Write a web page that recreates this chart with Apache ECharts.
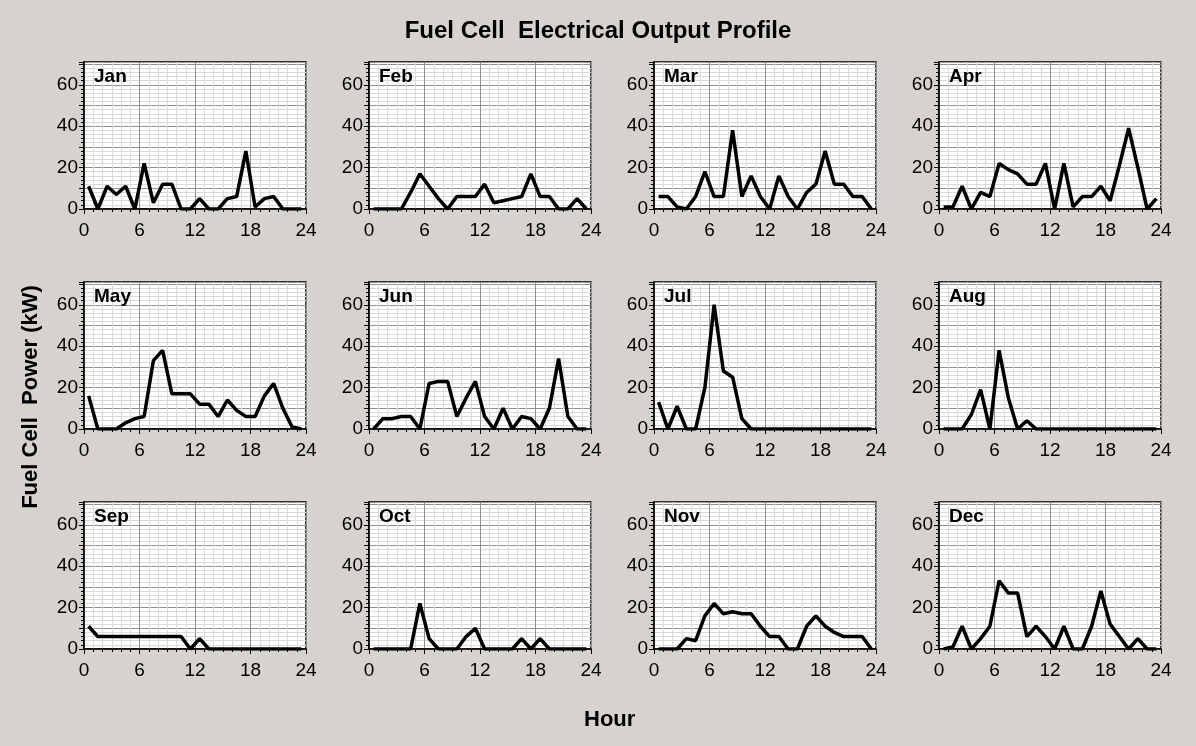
<!DOCTYPE html>
<html><head><meta charset="utf-8">
<script src="https://cdn.jsdelivr.net/npm/echarts@6/dist/echarts.min.js"></script>
<style>html,body{margin:0;padding:0;background:#d6d3ce;}#c{width:1196px;height:746px;}</style>
</head><body><div id="c"></div>
<script>
const months = ['Jan','Feb','Mar','Apr','May','Jun','Jul','Aug','Sep','Oct','Nov','Dec'];
const hours = [0.5,1.5,2.5,3.5,4.5,5.5,6.5,7.5,8.5,9.5,10.5,11.5,12.5,13.5,14.5,15.5,16.5,17.5,18.5,19.5,20.5,21.5,22.5,23.5];
const xTicks = [0,6,12,18,24];
const yTicks = [0,20,40,60];
const jan = [11,0,11,7,11,0,22,3,12,12,0,0,5,0,0,5,6,28,1,5,6,0,0,0];
const feb = [0,0,0,0,8,17,11,5,0,6,6,6,12,3,4,5,6,17,6,6,0,0,5,0];
const mar = [6,6,1,0,6,18,6,6,38,6,16,6,0,16,6,0,8,12,28,12,12,6,6,0];
const apr = [1,1,11,0,8,6,22,19,17,12,12,22,0,22,1,6,6,11,4,21,39,20,0,5];
const may = [16,0,0,0,3,5,6,33,38,17,17,17,12,12,6,14,9,6,6,16,22,10,1,0];
const jun = [0,5,5,6,6,0,22,23,23,6,15,23,6,0,10,0,6,5,0,10,34,6,0,0];
const jul = [13,0,11,0,0,20,60,28,25,5,0,0,0,0,0,0,0,0,0,0,0,0,0,0];
const aug = [0,0,0,7,19,0,38,15,0,4,0,0,0,0,0,0,0,0,0,0,0,0,0,0];
const sep = [11,6,6,6,6,6,6,6,6,6,6,0,5,0,0,0,0,0,0,0,0,0,0,0];
const oct = [0,0,0,0,0,22,5,0,0,0,6,10,0,0,0,0,5,0,5,0,0,0,0,0];
const nov = [0,0,0,5,4,16,22,17,18,17,17,11,6,6,0,0,11,16,11,8,6,6,6,0];
const dec = [0,1,11,0,5,11,33,27,27,6,11,6,0,11,0,0,11,28,12,6,0,5,0,0];
const values = [jan,feb,mar,apr,may,jun,jul,aug,sep,oct,nov,dec];

const lefts = [84,369,654,939], tops = [62,282,502], W = 222, H = 147;
const font = '"Liberation Sans", Arial, sans-serif';
const grid = [], xAxis = [], yAxis = [], series = [], graphic = [];
months.forEach((m, k) => {
  const r = Math.floor(k / 4), c = k % 4;
  grid.push({left: lefts[c], top: tops[r], width: W, height: H, show: true,
    backgroundColor: '#ffffff', borderColor: '#000', borderWidth: 1.5, containLabel: false});
  xAxis.push({type: 'value', gridIndex: k, min: 0, max: 24, interval: 6,
    axisLine: {show: true, lineStyle: {color: '#000', width: 1.5}},
    axisTick: {show: true, length: 5, lineStyle: {color: '#000'}},
    minorTick: {show: true, splitNumber: 6, length: 3, lineStyle: {color: '#000'}},
    splitLine: {show: true, lineStyle: {color: '#909090', width: 1}},
    minorSplitLine: {show: true, lineStyle: {color: '#dadada', width: 1}},
    axisLabel: {color: '#000', fontSize: 19, fontFamily: font, margin: 12,
      formatter: v => xTicks.includes(v) ? String(v) : ''}});
  yAxis.push({type: 'value', gridIndex: k, min: 0, max: 71, interval: 10,
    axisLine: {show: true, lineStyle: {color: '#000', width: 1.5}},
    axisTick: {show: true, length: 5, lineStyle: {color: '#000'}},
    minorTick: {show: true, splitNumber: 5, length: 3, lineStyle: {color: '#000'}},
    splitLine: {show: true, lineStyle: {color: '#909090', width: 1}},
    minorSplitLine: {show: true, lineStyle: {color: '#dadada', width: 1}},
    axisLabel: {color: '#000', fontSize: 19, fontFamily: font, margin: 6,
      formatter: v => yTicks.includes(v) ? String(v) : ''}});
  series.push({type: 'line', xAxisIndex: k, yAxisIndex: k, showSymbol: false,
    data: hours.map((h, i) => [h, values[k][i]]),
    lineStyle: {color: '#000', width: 3.5}, silent: true, animation: false});
  graphic.push({type: 'text', left: lefts[c] + 10, top: tops[r] + 5, z: 100,
    style: {text: m, font: 'bold 19px ' + font, fill: '#000'}});
});
graphic.push({type: 'text', left: 'center', top: 19, z: 100,
  style: {text: 'Fuel Cell  Electrical Output Profile', font: 'bold 24px ' + font, fill: '#000'}});
graphic.push({type: 'text', left: 584, top: 709, z: 100,
  style: {text: 'Hour', font: 'bold 22px ' + font, fill: '#000'}});
graphic.push({type: 'text', x: 31, y: 397, rotation: Math.PI / 2, z: 100,
  style: {text: 'Fuel Cell  Power (kW)', font: 'bold 22px ' + font, fill: '#000', align: 'center', verticalAlign: 'middle'}});

const chart = echarts.init(document.getElementById('c'), null, {renderer: 'canvas'});
chart.setOption({backgroundColor: '#d6d3ce', animation: false, grid, xAxis, yAxis, series, graphic});
</script></body></html>
